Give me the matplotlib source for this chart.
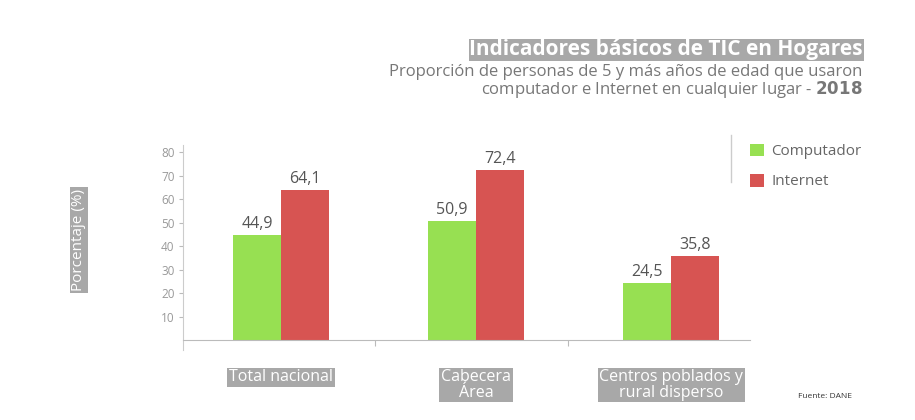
import matplotlib
matplotlib.use('Agg')
import matplotlib.pyplot as plt
from matplotlib.lines import Line2D
from matplotlib.transforms import blended_transform_factory

plt.rcParams['font.family'] = ['Open Sans', 'DejaVu Sans']

categorias = ['Total nacional', 'Cabecera\nÁrea', 'Centros poblados y\nrural disperso']
computador = [44.9, 50.9, 24.5]
internet = [64.1, 72.4, 35.8]
yticks = [10, 20, 30, 40, 50, 60, 70, 80]

verde = '#97e052'
rojo = '#d75452'
gris_caja = '#a8a8a8'

fig = plt.figure(figsize=(9.15, 4.2), dpi=100)
ax = fig.add_axes([0.2, 0.1669, 0.6197, 0.4879])

x = list(range(len(categorias)))
w = 0.246
b1 = ax.bar([i - w / 2 for i in x], computador, w, color=verde, label='Computador')
b2 = ax.bar([i + w / 2 for i in x], internet, w, color=rojo, label='Internet')

for bars, vals in [(b1, computador), (b2, internet)]:
    for r, v in zip(bars, vals):
        ax.annotate(f'{v:.1f}'.replace('.', ','), (r.get_x() + r.get_width() / 2, v),
                    xytext=(0, 2), textcoords='offset points', ha='center', va='bottom',
                    fontsize=11.5, color='#555555')

ax.set_xlim(-0.5026, 2.405)
ax.set_ylim(-4, 83)
ax.set_yticks(yticks)
ax.set_xticks([0.48, 1.47])
ax.set_xticklabels([])
ax.tick_params(axis='y', length=3, width=0.8, color='#bbbbbb', labelcolor='#999999',
               labelsize=8.5, pad=3)
ax.tick_params(axis='x', length=4, width=0.8, color='#bbbbbb')
for s in ['top', 'right']:
    ax.spines[s].set_visible(False)
ax.spines['left'].set_color('#cccccc')
ax.spines['bottom'].set_position(('data', 0))
ax.spines['bottom'].set_color('#bbbbbb')

# etiquetas de categoria en cajas grises
trans = blended_transform_factory(ax.transData, fig.transFigure)
for i, c in enumerate(categorias):
    ax.text(i, 0.121, c, transform=trans, ha='center', va='top', fontsize=11.5,
            color='white', linespacing=0.95,
            bbox=dict(boxstyle='square,pad=0.1', fc=gris_caja, ec='none'))

# etiqueta eje y
fig.text(79 / 915, 180 / 420, 'Porcentaje (%)', rotation=90, ha='center', va='center',
         fontsize=11, color='white',
         bbox=dict(boxstyle='square,pad=0.12', fc=gris_caja, ec='none'))

# titulo y subtitulo
fig.text(0.943, 0.881, 'Indicadores básicos de TIC en Hogares', ha='right', va='center',
         fontsize=15, fontweight='bold', color='white',
         bbox=dict(boxstyle='square,pad=0.04', fc=gris_caja, ec='none'))
fig.text(0.943, 0.829, 'Proporción de personas de 5 y más años de edad que usaron',
         ha='right', va='center', fontsize=12, color='#777777')
fig.text(0.943, 0.786, 'computador e Internet en cualquier lugar - $\\bf{2018}$',
         ha='right', va='center', fontsize=12, color='#777777')

# leyenda
leg = ax.legend(loc='upper left', bbox_to_anchor=(736 / 915, 290 / 420),
                bbox_transform=fig.transFigure, frameon=False, fontsize=11,
                handlelength=0.9, handleheight=0.9, handletextpad=0.5,
                labelspacing=0.95, labelcolor='#666666')
fig.add_artist(Line2D([731 / 915, 731 / 915], [(420 - 135) / 420, (420 - 182) / 420],
                      color='#cccccc', lw=1))

fig.text(798 / 915, (420 - 397) / 420, 'Fuente: DANE', ha='left', va='center',
         fontsize=6, color='#333333')

fig.savefig('out.png', dpi=100, facecolor='white')
